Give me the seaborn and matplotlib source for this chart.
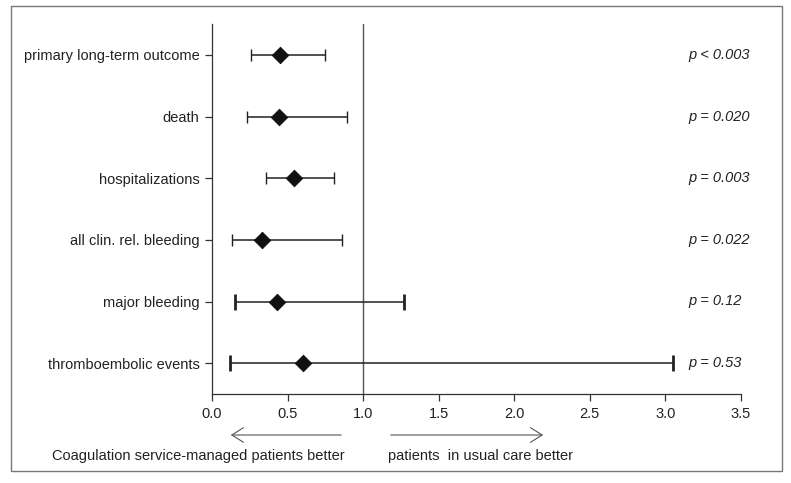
import matplotlib
matplotlib.use("Agg")
import matplotlib.pyplot as plt
from matplotlib.patches import Rectangle
import seaborn as sns
import pandas as pd

# outcomes, hazard ratios and 95% CI
outcomes = [
    "primary long-term outcome",
    "death",
    "hospitalizations",
    "all clin. rel. bleeding",
    "major bleeding",
    "thromboembolic events",
]
hr = [0.45, 0.44, 0.54, 0.33, 0.43, 0.60]
ci_low = [0.26, 0.23, 0.36, 0.13, 0.15, 0.12]
ci_high = [0.75, 0.89, 0.81, 0.86, 1.27, 3.05]
p_labels = ["p < 0.003", "p = 0.020", "p = 0.003", "p = 0.022", "p = 0.12", "p = 0.53"]
x_ticks = [0.0, 0.5, 1.0, 1.5, 2.0, 2.5, 3.0, 3.5]

df = pd.DataFrame({"outcome": outcomes, "hr": hr, "lo": ci_low, "hi": ci_high, "p": p_labels})
df["row"] = range(len(df))

sns.set_style("ticks")
plt.rcParams["font.family"] = ["Liberation Sans", "DejaVu Sans"]
plt.rcParams["font.size"] = 10.5

fig = plt.figure(figsize=(7.91, 4.83), dpi=100)
ax = fig.add_axes([212 / 791, 1 - 394 / 483, 529 / 791, 370 / 483])

# reference line at HR = 1
ax.axvline(1.0, color="#555555", lw=1.0, zorder=1)

# confidence intervals; wide ones drawn with heavier caps like the original
for i, r in df.iterrows():
    heavy = r["hi"] > 1.0
    ax.errorbar([r["hr"]], [r["row"]], xerr=[[r["hr"] - r["lo"]], [r["hi"] - r["hr"]]],
                fmt="none", ecolor="#222222", elinewidth=1.1,
                capsize=6 if heavy else 4, capthick=2.0 if heavy else 1.0, zorder=2)

sns.scatterplot(data=df, x="hr", y="row", marker="D", s=70, color="#111111",
                edgecolor="#111111", ax=ax, zorder=3, legend=False)

for _, r in df.iterrows():
    ax.text(3.15, r["row"], r["p"], style="italic", va="center", ha="left",
            fontsize=10.5, color="#222222", clip_on=False)

ax.set_xlim(0, 3.5)
ax.set_ylim(len(df) - 0.5, -0.5)
ax.set_xticks(x_ticks)
ax.set_xticklabels([f"{t:.1f}" for t in x_ticks])
ax.set_yticks(df["row"])
ax.set_yticklabels(df["outcome"])
ax.set_xlabel("")
ax.set_ylabel("")
ax.tick_params(axis="both", length=5, width=0.9, color="#333333", labelcolor="#222222",
               labelsize=10.5, pad=4)
sns.despine(ax=ax, top=True, right=True)
for s in ["left", "bottom"]:
    ax.spines[s].set_color("#333333")
    ax.spines[s].set_linewidth(0.9)

# direction arrows and captions under the axis
arrow_kw = dict(arrowstyle="->,head_length=0.8,head_width=0.5", color="#555555", lw=0.8)
ax.annotate("", xy=(228 / 791, 1 - 435 / 483), xytext=(344 / 791, 1 - 435 / 483),
            xycoords="figure fraction", arrowprops=arrow_kw)
ax.annotate("", xy=(546 / 791, 1 - 435 / 483), xytext=(388 / 791, 1 - 435 / 483),
            xycoords="figure fraction", arrowprops=arrow_kw)
fig.text(198 / 791, 1 - 456 / 483, "Coagulation service-managed patients better",
         ha="center", va="center", fontsize=10.5, color="#222222")
fig.text(388 / 791, 1 - 456 / 483, "patients  in usual care better",
         ha="left", va="center", fontsize=10.5, color="#222222")

# outer frame around the whole figure
fig.patches.append(Rectangle((11 / 791, 1 - 471 / 483), 771 / 791, 465 / 483,
                             transform=fig.transFigure, fill=False,
                             edgecolor="#777777", lw=1.0))

fig.savefig("out.png", dpi=100)
